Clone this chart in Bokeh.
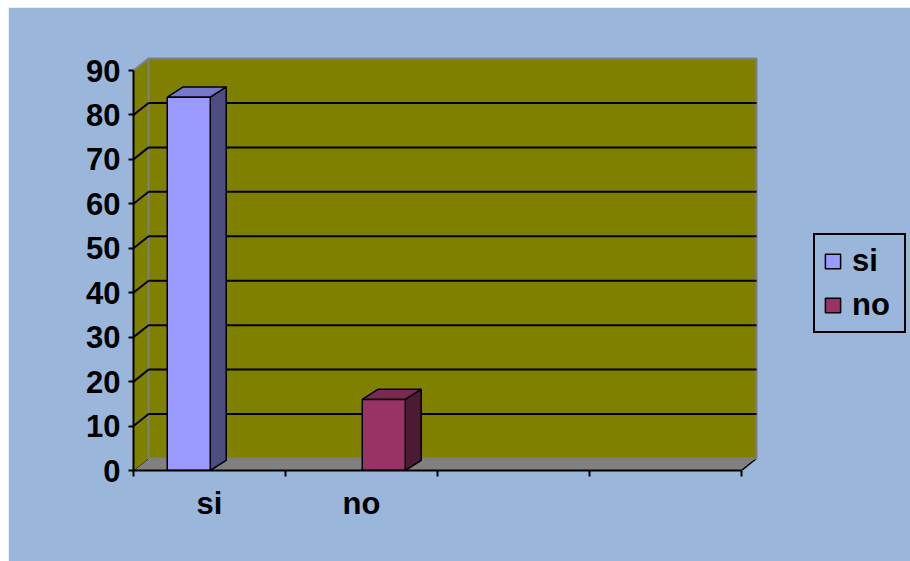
from bokeh.plotting import figure
from bokeh.models import (Range1d, FixedTicker, Legend, LegendItem)
from bokeh.embed import file_html
from bokeh.resources import INLINE

# ---- data ----
categories = ["si", "no", "", ""]
series_names = ["si", "no"]
series_si = [84, None, None, None]
series_no = [None, 16, None, None]
y_ticks = [0, 10, 20, 30, 40, 50, 60, 70, 80, 90]

# ---- style ----
front_colors = ["#9999FF", "#993366"]
top_colors = ["#7777CC", "#7A2952"]
side_colors = ["#4D4D80", "#4D1A33"]
wall_color = "#808000"
floor_color = "#808080"
bg_color = "#9AB7DB"
FONT = "Liberation Sans"
FS = "31px"

DX, DY = 0.099, 2.7        # wall depth offset (data units)
BDX, BDY = 0.105, 2.3      # bar depth offset
GAP, BW = 0.222, 0.283     # bar slot offset / width inside category
NCAT = len(categories)
Y_MAX = 90

p = figure(width=902, height=554, output_backend="svg", toolbar_location=None,
           x_range=Range1d(0, 5.112), y_range=Range1d(0, 93.375),
           min_border_left=125, min_border_right=0, min_border_top=48,
           min_border_bottom=91)
p.margin = (7, 0, 0, 8)
p.background_fill_color = bg_color
p.border_fill_color = bg_color
p.outline_line_color = bg_color
p.outline_line_width = 3
p.grid.visible = False

# floor
p.patch([0, NCAT, NCAT + DX, DX], [0, 0, DY, DY], fill_color=floor_color,
        line_color=None)
p.line([0, DX], [0, DY], line_color="black", line_width=1)
p.line([NCAT, NCAT + DX], [0, DY], line_color="black", line_width=1.5)
# left side wall
p.patch([0, 0, DX, DX], [0, Y_MAX, Y_MAX + DY, DY], fill_color=wall_color,
        line_color=None)
# back wall
p.quad(left=DX, right=NCAT + DX, bottom=DY, top=Y_MAX + DY,
       fill_color=wall_color, line_color="#7F7F7F", line_width=2)
# gridlines
for t in y_ticks[1:-1]:
    p.line([DX, NCAT + DX], [t + DY, t + DY], line_color="black", line_width=2)
    p.line([0, DX], [t, t + DY], line_color="black", line_width=2)
p.line([0, DX], [Y_MAX, Y_MAX + DY], line_color="#7F7F7F", line_width=2)

# bars
renderers = []
for s, series in enumerate([series_si, series_no]):
    first = None
    for c, v in enumerate(series):
        if v is None:
            continue
        l = c + GAP + s * BW
        r = l + BW
        p.patch([r, r + BDX, r + BDX, r], [0, BDY, v + BDY, v],
                fill_color=side_colors[s], line_color="black", line_width=1.5)
        p.patch([l, r, r + BDX, l + BDX], [v, v, v + BDY, v + BDY],
                fill_color=top_colors[s], line_color="black", line_width=1.5)
        rr = p.quad(left=l, right=r, bottom=0, top=v,
                    fill_color=front_colors[s], line_color="black",
                    line_width=1.5)
        if first is None:
            first = rr
    renderers.append(first)

# axes
yax = p.yaxis[0]
yax.ticker = FixedTicker(ticks=y_ticks)
yax.bounds = (0, Y_MAX)
yax.axis_line_width = 2
yax.major_tick_line_width = 2
yax.major_tick_out = 5
yax.major_tick_in = 0
yax.minor_tick_out = 0
yax.minor_tick_in = 0
yax.major_label_standoff = 8
yax.major_label_text_font = FONT
yax.major_label_text_font_style = "bold"
yax.major_label_text_font_size = FS
yax.major_label_text_color = "black"

xax = p.xaxis[0]
centers = [i + 0.5 for i in range(NCAT)]
xax.ticker = FixedTicker(ticks=centers, minor_ticks=list(range(NCAT + 1)))
xax.major_label_overrides = {c: lab for c, lab in zip(centers, categories)}
xax.bounds = (0, NCAT)
xax.axis_line_width = 2
xax.major_tick_out = 0
xax.major_tick_in = 0
xax.minor_tick_out = 6
xax.minor_tick_in = 0
xax.minor_tick_line_width = 2
xax.major_label_standoff = 9
xax.major_label_text_font = FONT
xax.major_label_text_font_style = "bold"
xax.major_label_text_font_size = FS
xax.major_label_text_color = "black"

legend = Legend(items=[LegendItem(label=n, renderers=[r])
                       for n, r in zip(series_names, renderers)],
                location=(680, 137))
legend.background_fill_color = None
legend.border_line_color = "black"
legend.border_line_alpha = 1.0
legend.border_line_width = 2
legend.label_text_font = FONT
legend.label_text_font_style = "bold"
legend.label_text_font_size = FS
legend.label_text_color = "black"
legend.glyph_width = 19
legend.glyph_height = 18
legend.spacing = 8
legend.padding = 8
legend.margin = 0
legend.label_standoff = 10
legend.label_width = 44
p.add_layout(legend, "center")

open("out.html", "w").write(file_html(p, INLINE))
